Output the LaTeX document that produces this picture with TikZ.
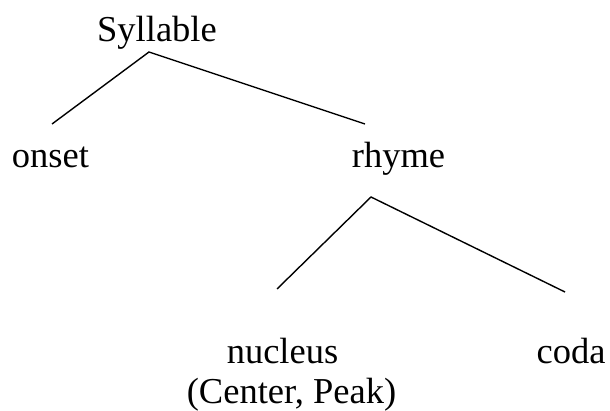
\documentclass[tikz,border=0pt]{standalone}
\usepackage{fontspec}
\setmainfont{Liberation Serif}
\begin{document}
\begin{tikzpicture}[x=1pt,y=-1pt,
  lbl/.style={anchor=base,inner sep=0pt,font=\fontsize{36.5}{40}\selectfont},
  branch/.style={draw=black,line width=1.4pt}]
\useasboundingbox (0,0) rectangle (610,411);
\node[lbl] (syl) at (157,42) {Syllable};
\node[lbl] (onset) at (50.5,168) {onset};
\node[lbl] (rhyme) at (398.5,168) {rhyme};
\node[lbl] (nucleus) at (282.5,363) {nucleus};
\node[lbl] (peak) at (291.5,403) {(Center, Peak)};
\node[lbl] (coda) at (571,363) {coda};
\coordinate (sylapex) at (149,52);
\coordinate (onsettop) at (52,124);
\coordinate (rhymetop) at (365,124);
\coordinate (rhymeapex) at (371,197);
\coordinate (nucleustop) at (277,289);
\coordinate (codatop) at (565,292);
\draw[branch] (onsettop) -- (sylapex) -- (rhymetop);
\draw[branch] (nucleustop) -- (rhymeapex) -- (codatop);
\end{tikzpicture}
\end{document}
